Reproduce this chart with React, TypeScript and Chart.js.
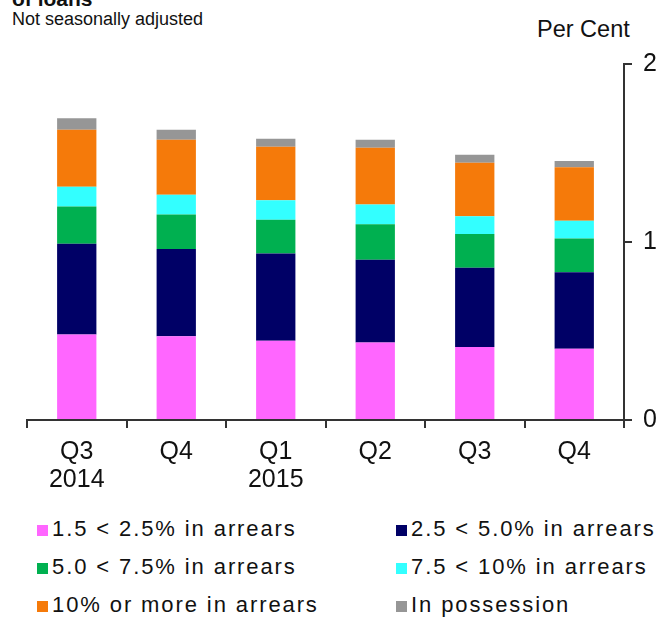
import React, { useEffect, useRef } from "react";
import { Chart, registerables } from "chart.js";

Chart.register(...registerables);

const categories: string[][] = [["Q3", "2014"], ["Q4"], ["Q1", "2015"], ["Q2"], ["Q3"], ["Q4"]];
const arrears15to25 = [0.48, 0.47, 0.445, 0.435, 0.41, 0.40];
const arrears25to50 = [0.51, 0.49, 0.49, 0.465, 0.445, 0.43];
const arrears50to75 = [0.21, 0.195, 0.19, 0.2, 0.19, 0.19];
const arrears75to10 = [0.11, 0.11, 0.11, 0.11, 0.1, 0.1];
const arrears10plus = [0.32, 0.31, 0.3, 0.32, 0.3, 0.3];
const inPossession = [0.065, 0.055, 0.045, 0.045, 0.045, 0.035];
const yTicks = [0, 1, 2];

const seriesLabels = [
  "1.5 < 2.5% in arrears",
  "2.5 < 5.0% in arrears",
  "5.0 < 7.5% in arrears",
  "7.5 < 10% in arrears",
  "10% or more in arrears",
  "In possession",
];
const seriesColors = ["#FF66FF", "#000066", "#00B050", "#33FFFF", "#F57A0A", "#969696"];
const seriesData = [arrears15to25, arrears25to50, arrears50to75, arrears75to10, arrears10plus, inPossession];

const FONT = "'Liberation Sans', Arial, sans-serif";
const TEXT = "#111111";

export default function App() {
  const ref = useRef<HTMLCanvasElement | null>(null);

  useEffect(() => {
    if (!ref.current) return;
    const chart = new Chart(ref.current, {
      type: "bar",
      data: {
        labels: categories as any,
        datasets: seriesData.map((d, i) => ({
          label: seriesLabels[i],
          data: d,
          backgroundColor: seriesColors[i],
          borderWidth: 0,
          categoryPercentage: 1,
          barPercentage: 0.395,
        })),
      },
      options: {
        animation: false,
        responsive: false,
        devicePixelRatio: 1,
        layout: { padding: { left: 27, top: 64, right: 0, bottom: 0 } },
        plugins: { legend: { display: false }, tooltip: { enabled: false } },
        scales: {
          x: {
            stacked: true,
            offset: true,
            grid: { display: true, drawOnChartArea: false, offset: true, tickLength: 8, color: "#333", lineWidth: 2 },
            border: { display: true, color: "#333", width: 2 },
            ticks: { font: { family: FONT, size: 25, lineHeight: 1.12 }, color: TEXT, padding: 10, maxRotation: 0, autoSkip: false },
            afterFit: (s: any) => { s.height = 80; },
          },
          y: {
            stacked: true,
            position: "right",
            min: 0,
            max: 2,
            afterBuildTicks: (s: any) => { s.ticks = yTicks.map((v) => ({ value: v })); },
            grid: { display: true, drawOnChartArea: false, tickLength: 8, color: "#333", lineWidth: 2 },
            border: { display: true, color: "#333", width: 2 },
            ticks: { font: { family: FONT, size: 25 }, color: TEXT, padding: 11 },
            afterFit: (s: any) => { s.width = 35; },
          },
        },
      },
    });
    return () => chart.destroy();
  }, []);

  const legendRows = [0, 1, 2];
  const legendTops = [518, 556, 594];
  const colLeft = [37, 396];

  return (
    <div style={{ position: "absolute", left: 0, top: 0, width: 659, height: 617, overflow: "hidden", background: "#fff", fontFamily: FONT, color: TEXT }}>
      <div style={{ position: "absolute", left: 12, top: -12, fontSize: 21, lineHeight: "21px", fontWeight: "bold", whiteSpace: "nowrap" }}>of loans</div>
      <div style={{ position: "absolute", left: 12, top: 10, fontSize: 18, lineHeight: "18px", whiteSpace: "nowrap" }}>Not seasonally adjusted</div>
      <div style={{ position: "absolute", left: 537, top: 17, fontSize: 23.5, lineHeight: "24px", whiteSpace: "nowrap" }}>Per Cent</div>
      <canvas ref={ref} width={659} height={500} style={{ position: "absolute", left: 0, top: 0, width: 659, height: 500 }} />
      {legendRows.map((r) =>
        [0, 1].map((c) => {
          const idx = r * 2 + c;
          return (
            <React.Fragment key={idx}>
              <div style={{ position: "absolute", left: colLeft[c], top: legendTops[r] + 7, width: 11, height: 11, background: seriesColors[idx] }} />
              <div style={{ position: "absolute", left: colLeft[c] + 15, top: legendTops[r], fontSize: 22, lineHeight: "22px", letterSpacing: "1.9px", whiteSpace: "nowrap" }}>
                {seriesLabels[idx]}
              </div>
            </React.Fragment>
          );
        })
      )}
    </div>
  );
}
